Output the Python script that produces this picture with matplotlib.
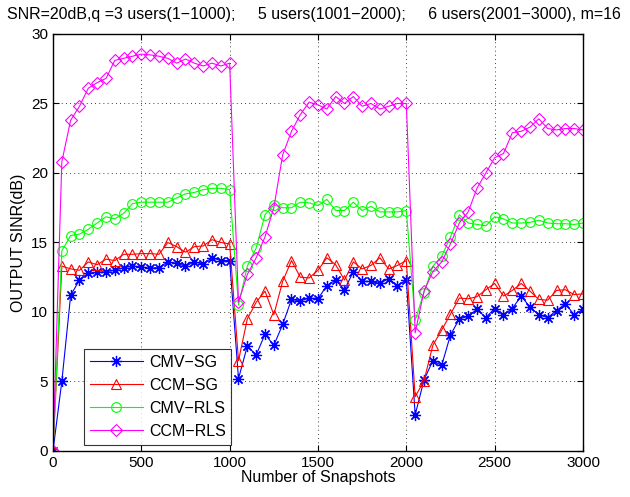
import numpy as np
import matplotlib
matplotlib.use("Agg")
import matplotlib.pyplot as plt

snapshots = list(range(0, 3001, 50))

cmv_sg = [0,
    5.0, 11.2, 12.3, 12.8, 12.85, 12.9, 13.0, 13.2, 13.3, 13.25,
    13.15, 13.2, 13.6, 13.5, 13.3, 13.6, 13.45, 13.9, 13.7, 13.7,
    5.2, 7.55, 6.9, 8.4, 7.6, 9.1, 10.9, 10.8, 11.0, 10.95,
    11.9, 12.3, 11.6, 12.9, 12.2, 12.2, 12.05, 12.4, 11.9, 12.3,
    2.6, 5.1, 6.5, 6.15, 8.35, 9.5, 9.7, 10.2, 9.6, 10.25,
    9.8, 10.25, 11.15, 10.35, 9.8, 9.6, 10.1, 10.6, 9.8, 10.2]

ccm_sg = [0,
    13.3, 13.1, 13.0, 13.6, 13.4, 13.8, 13.7, 14.15, 14.15, 14.2,
    14.2, 14.15, 15.0, 14.7, 14.3, 14.7, 14.75, 15.2, 15.0, 14.9,
    6.5, 9.5, 10.7, 11.5, 9.8, 12.2, 13.7, 12.5, 12.45, 13.0,
    13.9, 13.4, 12.3, 13.6, 13.1, 13.35, 13.9, 13.1, 13.35, 13.7,
    3.9, 5.05, 7.6, 8.7, 9.85, 11.0, 10.95, 11.1, 11.6, 12.05,
    11.15, 11.55, 12.05, 11.5, 10.9, 10.85, 11.55, 11.6, 11.25, 11.3]

cmv_rls = [0,
    14.4, 15.5, 15.6, 15.95, 16.4, 16.85, 16.7, 17.1, 17.8, 17.9,
    17.9, 17.9, 17.9, 18.2, 18.5, 18.6, 18.8, 18.9, 18.9, 18.8,
    10.5, 13.3, 14.6, 17.0, 17.7, 17.5, 17.5, 17.9, 17.85, 17.65,
    18.1, 17.3, 17.3, 17.9, 17.3, 17.6, 17.2, 17.2, 17.2, 17.3,
    9.4, 11.4, 13.3, 14.0, 15.4, 17.0, 16.4, 16.3, 16.2, 16.85,
    16.7, 16.4, 16.4, 16.45, 16.6, 16.4, 16.35, 16.35, 16.3, 16.4]

ccm_rls = [0,
    20.8, 23.8, 24.8, 26.1, 26.5, 26.8, 28.1, 28.25, 28.4, 28.55,
    28.5, 28.4, 28.25, 27.9, 28.2, 27.9, 27.7, 27.9, 27.7, 27.9,
    10.7, 12.7, 13.9, 15.4, 17.5, 21.3, 23.0, 24.2, 25.1, 24.9,
    24.6, 25.5, 25.0, 25.5, 24.8, 25.0, 24.6, 24.8, 25.0, 25.0,
    8.5, 11.5, 12.9, 13.6, 14.9, 16.4, 17.2, 18.9, 20.0, 21.1,
    21.4, 22.9, 23.0, 23.3, 23.9, 23.2, 23.1, 23.2, 23.2, 23.1]

x_ticks = [0, 500, 1000, 1500, 2000, 2500, 3000]
y_ticks = [0, 5, 10, 15, 20, 25, 30]

plt.rcParams['font.family'] = ['Liberation Sans', 'DejaVu Sans']
fs = 11.5
fs_tick = 11

fig = plt.figure(figsize=(6.3, 4.97), dpi=100)
ax = fig.add_axes([0.0841, 0.0926, 0.8413, 0.8390])

ax.plot(snapshots, cmv_sg, color=(0, 0, 1), marker=(8, 2, 0), markersize=8, lw=0.8,
        markeredgewidth=0.9, label='CMV\u2212SG')
ax.plot(snapshots, ccm_sg, color=(1, 0, 0), marker='^', markersize=7.5, lw=0.8,
        markerfacecolor='none', markeredgewidth=0.8, label='CCM\u2212SG')
ax.plot(snapshots, cmv_rls, color=(0, 1, 0), marker='o', markersize=7, lw=0.8,
        markerfacecolor='none', markeredgewidth=0.8, label='CMV\u2212RLS')
ax.plot(snapshots, ccm_rls, color=(1, 0, 1), marker='D', markersize=6.5, lw=0.8,
        markerfacecolor='none', markeredgewidth=0.8, label='CCM\u2212RLS')

ax.set_xlim(0, 3000)
ax.set_ylim(0, 30)
ax.set_xticks(x_ticks)
ax.set_yticks(y_ticks)
ax.tick_params(direction='in', top=True, right=True, labelsize=fs_tick, length=4)
ax.grid(True, color='black', linestyle=(0, (1, 4)), linewidth=0.6)
for s in ax.spines.values():
    s.set_linewidth(1.0)

ax.set_xlabel('Number of Snapshots', fontsize=fs, labelpad=0)
ax.set_ylabel('OUTPUT SINR(dB)', fontsize=fs, labelpad=4)

leg = ax.legend(loc='lower left', bbox_to_anchor=(0.05, 0.004), fontsize=fs,
                frameon=True, fancybox=False, edgecolor='black',
                handlelength=3.3, handletextpad=0.4, borderpad=0.35,
                labelspacing=0.5, borderaxespad=0.3)
leg.get_frame().set_linewidth(0.8)

fig.text(0.011, 0.985,
         'SNR=20dB,q =3 users(1\u22121000);     5 users(1001\u22122000);     6 users(2001\u22123000), m=16',
         fontsize=fs, ha='left', va='top')

fig.savefig('out.png', dpi=100)
